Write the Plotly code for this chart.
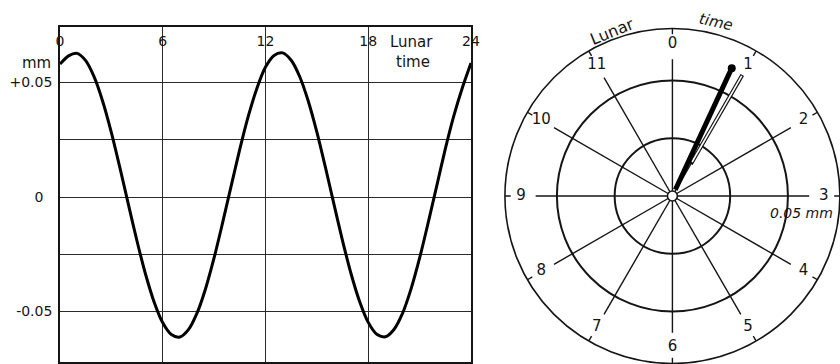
import plotly.graph_objects as go

# Tidal displacement over one lunar day (mm), read every half hour
lunar_hours = [i * 0.5 for i in range(49)]
displacement_mm = [
    0.0580, 0.0616, 0.0627, 0.0595, 0.0523, 0.0416, 0.0281, 0.0127,
    -0.0034, -0.0193, -0.0338, -0.0459, -0.0549, -0.0600, -0.0611, -0.0579,
    -0.0507, -0.0400, -0.0265, -0.0111, 0.0050, 0.0209, 0.0354, 0.0475,
    0.0567, 0.0618, 0.0629, 0.0597, 0.0525, 0.0418, 0.0283, 0.0129,
    -0.0032, -0.0191, -0.0336, -0.0457, -0.0547, -0.0599, -0.0610, -0.0578,
    -0.0508, -0.0401, -0.0266, -0.0112, 0.0049, 0.0210, 0.0355, 0.0478,
    0.0585,
]

x_ticks = [0, 6, 12, 18, 24]
x_tick_text = ["0", "6", "12", "18", "24"]
y_ticks = [-0.05, -0.025, 0, 0.025, 0.05]
y_tick_text = ["-0.05", "", "0  ", "", "+0.05"]

# Harmonic dial: 12 lunar hours round the clock face
dial_hours = list(range(12))
dial_labels = ["0", "1", "2", "3", "4", "5", "6", "7", "8", "9", "10", "11"]
ring_values = [0.025, 0.05]
dial_max = 0.0725

# Semidiurnal vector: amplitude (mm) and phase (lunar hours)
vector_amp = 0.061
vector_phase_h = 0.83

DEG_PER_HOUR = 30
INK = "#151515"
FONT = "DejaVu Sans"

fig = go.Figure()

# ---- left: displacement curve ----
fig.add_trace(go.Scatter(
    x=lunar_hours, y=displacement_mm, mode="lines",
    line=dict(color="black", width=3, shape="spline", smoothing=0.8),
    xaxis="x", yaxis="y", hoverinfo="skip", showlegend=False))

# ---- right: dial spokes ----
spoke_r, spoke_t = [], []
tick_r, tick_t = [], []
for h in dial_hours:
    ang = h * DEG_PER_HOUR
    spoke_r += [0, 0.0592, None]
    spoke_t += [ang, ang, None]
    tick_r += [0.0700, dial_max, None]
    tick_t += [ang, ang, None]

fig.add_trace(go.Scatterpolar(r=spoke_r, theta=spoke_t, mode="lines",
                              line=dict(color=INK, width=1.4), hoverinfo="skip",
                              showlegend=False, connectgaps=False))
fig.add_trace(go.Scatterpolar(r=tick_r, theta=tick_t, mode="lines",
                              line=dict(color=INK, width=1.4), hoverinfo="skip",
                              showlegend=False, connectgaps=False))

# hollow outline along the hour-1 spoke
one = 1 * DEG_PER_HOUR
fig.add_trace(go.Scatterpolar(r=[0.016, 0.0605], theta=[one, one], mode="lines",
                              line=dict(color=INK, width=4), hoverinfo="skip",
                              showlegend=False))
fig.add_trace(go.Scatterpolar(r=[0.017, 0.0600], theta=[one, one], mode="lines",
                              line=dict(color="white", width=1.6), hoverinfo="skip",
                              showlegend=False))

# hour labels at the spoke ends
fig.add_trace(go.Scatterpolar(
    r=[0.0655] * len(dial_hours), theta=[h * DEG_PER_HOUR for h in dial_hours],
    mode="text", text=dial_labels, textposition="middle center",
    textfont=dict(family=FONT, size=15, color=INK), hoverinfo="skip", showlegend=False))

# vector
vec_theta = vector_phase_h * DEG_PER_HOUR
fig.add_trace(go.Scatterpolar(r=[0.003, vector_amp], theta=[vec_theta, vec_theta],
                              mode="lines", line=dict(color="black", width=5),
                              hoverinfo="skip", showlegend=False))
fig.add_trace(go.Scatterpolar(r=[vector_amp], theta=[vec_theta], mode="markers",
                              marker=dict(color="black", size=8),
                              hoverinfo="skip", showlegend=False))

# centre hub
fig.add_trace(go.Scatterpolar(r=[0], theta=[0], mode="markers",
                              marker=dict(color="white", size=10,
                                          line=dict(color=INK, width=1.6)),
                              hoverinfo="skip", showlegend=False))

W, H = 840, 364

def px(x):
    return x / W

def py(y):
    return 1 - y / H

axis_common = dict(showgrid=True, gridcolor="#2a2a2a", gridwidth=1.4,
                   showline=True, mirror=True, linecolor=INK, linewidth=1.6,
                   zeroline=False, ticks="", color=INK, automargin=False,
                   tickfont=dict(family=FONT, size=14, color=INK))

def note(text, x, y, size=14, angle=0, xanchor="center"):
    return dict(text=text, x=px(x), y=py(y), xref="paper", yref="paper",
                xanchor=xanchor, yanchor="middle", textangle=angle,
                showarrow=False, font=dict(family=FONT, size=size, color=INK))

fig.update_layout(
    width=W, height=H, autosize=False,
    margin=dict(l=0, r=0, t=0, b=0, pad=0, autoexpand=False),
    paper_bgcolor="white", plot_bgcolor="white",
    xaxis=dict(domain=[px(60), px(471)], range=[0, 24], side="top",
               tickvals=x_ticks, ticktext=x_tick_text,
               ticklabelposition="inside", ticklabeloverflow="allow",
               ticklabelstandoff=9, anchor="y", **axis_common),
    yaxis=dict(domain=[py(362), py(27)], range=[-0.072, 0.0742],
               tickvals=y_ticks, ticktext=y_tick_text, ticklabelstandoff=3,
               anchor="x", **axis_common),
    polar=dict(
        domain=dict(x=[0.601, 1.0], y=[0.0014, 0.9217]),
        bgcolor="white",
        radialaxis=dict(range=[0, dial_max], tickvals=ring_values,
                        showticklabels=False, ticks="", showline=False,
                        showgrid=True, gridcolor=INK, gridwidth=1.5),
        angularaxis=dict(rotation=90, direction="clockwise", showgrid=False,
                         showticklabels=False, ticks="", showline=True,
                         linecolor=INK, linewidth=1.6),
    ),
    annotations=[
        note("mm", 36, 63, size=15),
        note("Lunar", 411, 42, size=15),
        note("time", 413, 62, size=15),
        note("Lunar", 612, 31, size=16, angle=-22),
        note("<i>time</i>", 716, 22, size=15, angle=12),
        note("<i>0.05 mm</i>", 768, 213, size=14, xanchor="left"),
    ],
)

fig.write_html("out.html")
